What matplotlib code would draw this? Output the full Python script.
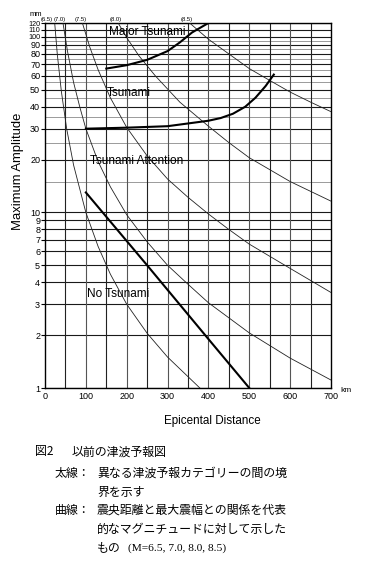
import matplotlib
matplotlib.use("Agg")
import matplotlib.pyplot as plt

# ---- data ----
mag_labels = ["(6.5)", "(7.0)", "(7.5)", "(8.0)", "(8.5)"]
mag_label_x = [5, 36, 88, 174, 348]

m65_dist = [24, 30, 40, 53, 70, 100, 130, 160, 200, 250, 300, 379]
m65_amp = [118, 80, 49, 30, 18.6, 10.0, 6.4, 4.45, 3.0, 2.05, 1.5, 1.0]
m70_dist = [44, 55, 70, 85, 100, 130, 160, 200, 250, 300, 350, 400, 500, 600, 700]
m70_amp = [120, 83, 55, 40, 30, 19.5, 14, 9.7, 6.8, 5.0, 3.9, 3.06, 2.06, 1.48, 1.11]
m75_dist = [92, 110, 130, 160, 200, 250, 300, 350, 400, 450, 500, 600, 700]
m75_amp = [119, 87, 65, 45, 30.5, 21, 15.5, 12.2, 9.8, 8.0, 6.6, 4.8, 3.5]
m80_dist = [180, 200, 230, 270, 330, 400, 450, 500, 600, 700]
m80_amp = [119, 99, 78, 60, 42.5, 31, 25, 20.5, 15, 11.6]
m85_dist = [354, 400, 450, 500, 550, 600, 650, 700]
m85_amp = [120, 97, 80, 66, 56.5, 48.5, 42.5, 37.5]

major_dist = [150, 200, 250, 300, 330, 360, 400]
major_amp = [66, 69, 74, 83, 93, 106, 120]
tsunami_dist = [100, 200, 300, 400, 430, 460, 490, 515, 540, 560]
tsunami_amp = [30, 30.4, 31, 33.3, 34.5, 36.5, 40, 45, 52.5, 61]
attention_dist = [100, 250, 400, 500]
attention_amp = [13, 5.0, 1.9, 1.0]

y_ticks = [1, 2, 3, 4, 5, 6, 7, 8, 9, 10, 20, 30, 40, 50, 60, 70, 80, 90, 100, 110, 120]
y_minor_lines = [15, 25, 35, 45, 55, 65, 75, 85, 95]
x_ticks = [0, 100, 200, 300, 400, 500, 600, 700]
x_grid = [50, 100, 150, 200, 250, 300, 350, 400, 450, 500, 550, 600, 650]

zone_labels = ["Major Tsunami", "Tsunami", "Tsunami Attention", "No Tsunami"]
zone_x = [157, 152, 110, 103]
zone_y = [106, 48, 19.6, 3.44]

caption_heads = [("図2", 35, 452), ("太線：", 55, 473), ("曲線：", 55, 510)]
caption_lines = [
    ("以前の津波予報図", 72, 452),
    ("異なる津波予報カテゴリーの間の境", 97, 473),
    ("界を示す", 97, 492),
    ("震央距離と最大震幅との関係を代表", 97, 510),
    ("的なマグニチュードに対して示した", 97, 529),
    ("もの", 97, 548),
]
caption_latin = "(M=6.5, 7.0, 8.0, 8.5)"

# ---- figure ----
W, H = 367, 577
fig = plt.figure(figsize=(W / 100, H / 100), dpi=100)
fig.patch.set_facecolor("white")
L, R, T, B = 45, 331, 23, 388
ax = fig.add_axes([L / W, 1 - B / H, (R - L) / W, (B - T) / H])
ax.set_yscale("log")
ax.set_xlim(0, 700)
ax.set_ylim(1, 120)

sans = ["Liberation Sans", "DejaVu Sans"]

# grid lines
for v in y_ticks:
    ax.axhline(v, color="#1a1a1a", lw=0.8, zorder=1)
for v in y_minor_lines:
    ax.axhline(v, color="#9a9a9a", lw=0.7, zorder=1)
for i, v in enumerate(x_grid):
    ax.axvline(v, color="#222222" if i % 2 == 0 else "#555555", lw=0.8, zorder=1)

# magnitude curves (thin)
for d, a in [(m65_dist, m65_amp), (m70_dist, m70_amp), (m75_dist, m75_amp),
             (m80_dist, m80_amp), (m85_dist, m85_amp)]:
    ax.plot(d, a, color="#222222", lw=0.6, zorder=3)

# boundaries (thick)
for d, a in [(major_dist, major_amp), (tsunami_dist, tsunami_amp),
             (attention_dist, attention_amp)]:
    ax.plot(d, a, color="black", lw=1.5, zorder=4)

for s, x, y in zip(zone_labels, zone_x, zone_y):
    ax.text(x, y, s, fontsize=8.5, family=sans, va="center", ha="left", zorder=5)

for s, x in zip(mag_labels, mag_label_x):
    ax.text(x, 122, s, fontsize=4.2, family=sans, ha="center", va="bottom")

ax.set_yticks(y_ticks)
ax.set_yticklabels([str(v) for v in y_ticks], family=sans)
for lab, v in zip(ax.get_yticklabels(), y_ticks):
    if v >= 100:
        lab.set_fontsize(5.2)
ax.minorticks_off()
ax.set_xticks(x_ticks)
ax.set_xticklabels([str(v) for v in x_ticks], family=sans)
ax.tick_params(axis="y", length=3, width=0.8, pad=0.5)
for lab, v in zip(ax.get_yticklabels(), y_ticks):
    lab.set_fontsize(5.2 if v >= 100 else 6.5)
ax.tick_params(axis="x", length=0, pad=3, labelsize=6.5)
for sp in ax.spines.values():
    sp.set_linewidth(1.0)

ax.set_xlabel("Epicental Distance", fontsize=8.4, family=sans)
ax.xaxis.set_label_coords(0.584, -0.075)
ax.set_ylabel("Maximum Amplitude", fontsize=9.4, family=sans)
ax.yaxis.set_label_coords(-0.075, 0.595)

fig.text(30 / W, 1 - 14 / H, "mm", fontsize=5.5, family=sans, va="center", ha="left")
fig.text(340 / W, 1 - 390 / H, "km", fontsize=6, family=sans, va="center", ha="left")

cjk = ["Noto Sans CJK JP", "DejaVu Sans"]
for s, x, y in caption_heads + caption_lines:
    fig.text(x / W, 1 - y / H, s, fontsize=8.6, family=cjk, va="center", ha="left")
fig.text(128 / W, 1 - 548 / H, caption_latin, fontsize=8.2,
         family=["Liberation Serif", "DejaVu Serif"], va="center", ha="left")

fig.savefig("out.png", dpi=100, facecolor="white")
